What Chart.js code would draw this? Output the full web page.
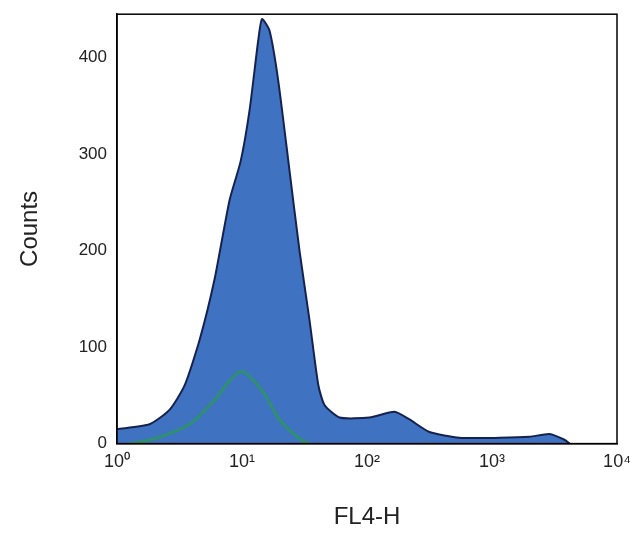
<!DOCTYPE html>
<html><head><meta charset="utf-8">
<script src="https://cdn.jsdelivr.net/npm/chart.js@4"></script>
<style>body{margin:0;background:#fff}#w{width:641px;height:540px}</style>
</head><body><div id="w"><canvas id="c"></canvas></div>
<script>
// log10(FL4-H) positions and counts
const blueLog = [0,0.26,0.42,0.54,0.66,0.78,0.90,0.99,1.06,1.13,1.16,1.22,1.29,1.38,1.46,1.54,1.61,1.66,1.78,2.02,2.22,2.34,2.50,2.74,3.06,3.30,3.46,3.58,3.62];
const blueCnt = [15,20,35,60,107,170,252,293,345,418,440,428,376,283,200,128,61,40,27,27,33,25,12,6,6,7,10,4,0];
const greenLog = [0.10,0.30,0.58,0.78,0.90,1.00,1.16,1.30,1.46,1.54];
const greenCnt = [0,5,20,45,65,75,55,25,5,0];
const xTicks = ['10⁰','10¹','10²','10³','10⁴'];
const yTicks = [0,100,200,300,400];
const pts=(l,c)=>l.map((v,i)=>({x:Math.pow(10,v),y:c[i]}));
new Chart(document.getElementById('c'),{
 type:'line',
 data:{datasets:[
  {data:pts(greenLog,greenCnt),borderColor:'#2f8f70',borderWidth:3,pointRadius:0,fill:false,tension:0.3},
  {data:pts(blueLog,blueCnt),borderColor:'#15224f',backgroundColor:'#3f73c2',borderWidth:2,pointRadius:0,fill:'origin',tension:0.2}
 ]},
 options:{responsive:true,maintainAspectRatio:false,animation:false,
  layout:{padding:{top:12,right:24,left:12,bottom:4}},
  plugins:{legend:{display:false},tooltip:{enabled:false}},
  scales:{
   x:{type:'logarithmic',min:1,max:10000,
    grid:{display:false,drawTicks:true,tickLength:6,tickColor:'#000'},border:{color:'#000',width:1.5},
    afterBuildTicks:s=>{s.ticks=[1,10,100,1000,10000].map(v=>({value:v}));},
    ticks:{color:'#222',font:{family:'Liberation Sans',size:18},maxRotation:0,padding:2,callback:(v)=>xTicks[Math.round(Math.log10(v))]},
    title:{display:true,text:'FL4-H',color:'#222',font:{family:'Liberation Sans',size:24},padding:{top:28}}},
   y:{min:0,max:445,
    afterFit:s=>{s.width=105;},
    grid:{display:false,tickLength:6,tickColor:'#000'},border:{color:'#000',width:1.5},
    afterBuildTicks:s=>{s.ticks=yTicks.map(v=>({value:v}));},
    ticks:{color:'#222',font:{family:'Liberation Sans',size:17},padding:4},
    title:{display:true,text:'Counts',color:'#222',font:{family:'Liberation Sans',size:24},padding:{bottom:4}}}
  }},
 plugins:[{id:'box',afterDraw(c){const a=c.chartArea,x=c.ctx;x.save();x.strokeStyle='#000';x.lineWidth=1.5;x.strokeRect(a.left,a.top,a.right-a.left,a.bottom-a.top);x.restore();}}]
});
</script></body></html>
